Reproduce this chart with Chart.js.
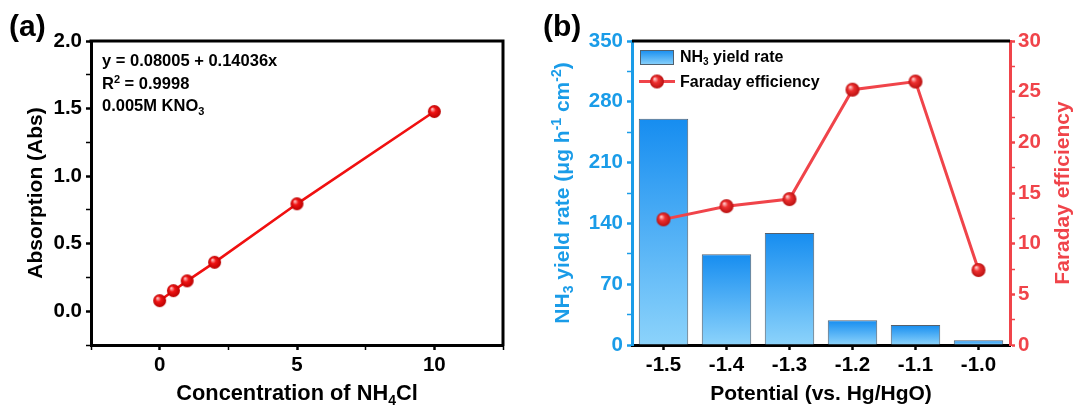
<!DOCTYPE html>
<html><head><meta charset="utf-8">
<script src="https://cdn.jsdelivr.net/npm/chart.js@4.4.0/dist/chart.umd.min.js"></script>
<style>
html,body{margin:0;padding:0;background:#fff;}
#wrap{position:relative;width:1074px;height:407px;overflow:hidden;background:#fff;}
#ca{position:absolute;left:0;top:0;}
#cb{position:absolute;left:540px;top:0;}
</style></head><body>
<div id="wrap"><canvas id="ca" width="540" height="407"></canvas><canvas id="cb" width="534" height="407"></canvas></div>
<script>
// ---------- data: panel (a) ----------
const concentrations = [0, 0.5, 1, 2, 5, 10];
const absorbances = [0.078, 0.152, 0.225, 0.362, 0.795, 1.478];
const concTicks = [-2.5, 0, 2.5, 5, 7.5, 10, 12.5];
const concTickLabels = ['', '0', '', '5', '', '10', ''];
const absTicks = [-0.25, 0, 0.25, 0.5, 0.75, 1.0, 1.25, 1.5, 1.75, 2.0];
const absTickLabels = ['', '0.0', '', '0.5', '', '1.0', '', '1.5', '', '2.0'];
// ---------- data: panel (b) ----------
const potentials = ['-1.5', '-1.4', '-1.3', '-1.2', '-1.1', '-1.0'];
const yieldRates = [260.5, 104.5, 129, 28.5, 23, 5.5];
const faradayEff = [12.4, 13.7, 14.4, 25.2, 26.0, 7.4];
const yieldTicks = [0, 35, 70, 105, 140, 175, 210, 245, 280, 315, 350];
const yieldTickLabels = ['0', '', '70', '', '140', '', '210', '', '280', '', '350'];
const feTicks = [0, 2.5, 5, 7.5, 10, 12.5, 15, 17.5, 20, 22.5, 25, 27.5, 30];
const feTickLabels = ['0', '', '5', '', '10', '', '15', '', '20', '', '25', '', '30'];

const FAMILY = '"Liberation Sans", Arial, sans-serif';
const BLUE = '#1a9ce8';
const RED = '#f0444a';
Chart.defaults.font.family = FAMILY;
Chart.defaults.font.weight = 'bold';

function sphere(r, light, base, dark) {
  const c = document.createElement('canvas');
  const s = Math.ceil(2 * r + 2);
  c.width = s; c.height = s;
  const g = c.getContext('2d');
  const cx = s / 2, cy = s / 2;
  const gr = g.createRadialGradient(cx - r * 0.35, cy - r * 0.4, r * 0.05, cx, cy, r);
  gr.addColorStop(0, light);
  gr.addColorStop(0.4, base);
  gr.addColorStop(1, dark);
  g.fillStyle = gr;
  g.beginPath(); g.arc(cx, cy, r, 0, Math.PI * 2); g.fill();
  return c;
}
const sphereA = sphere(6.5, '#ffc8c8', '#f01414', '#b80000');
const sphereB = sphere(7, '#ffd0d0', '#ee3030', '#b81010');

function fontOf(size) { return 'bold ' + size + 'px ' + FAMILY; }
function richWidth(ctx, segs, size) {
  let w = 0;
  for (const s of segs) {
    ctx.font = fontOf(s.sub || s.sup ? Math.round(size * 0.65) : size);
    w += ctx.measureText(s.t).width;
  }
  return w;
}
// y = vertical centre of capitals
function drawRich(ctx, segs, x, y, size, color, align, rot) {
  ctx.save();
  ctx.translate(x, y);
  if (rot) ctx.rotate(rot);
  const w = richWidth(ctx, segs, size);
  let cx = align === 'center' ? -w / 2 : 0;
  const base = size * 0.36;
  ctx.fillStyle = color;
  ctx.textBaseline = 'alphabetic';
  ctx.textAlign = 'left';
  for (const s of segs) {
    const small = s.sub || s.sup;
    const fs = small ? Math.round(size * 0.65) : size;
    ctx.font = fontOf(fs);
    let dy = base;
    if (s.sub) dy += size * 0.22;
    if (s.sup) dy -= size * 0.38;
    ctx.fillText(s.t, cx, dy);
    cx += ctx.measureText(s.t).width;
  }
  ctx.restore();
}

function tickSetter(list) { return function (scale) { scale.ticks = list.map(v => ({ value: v })); }; }
function labeler(values, labels) { return function (v) { const i = values.findIndex(t => Math.abs(t - v) < 1e-9); return i >= 0 ? labels[i] : ''; }; }
function isMajor(values, labels, v) { const i = values.findIndex(t => Math.abs(t - v) < 1e-9); return i >= 0 && labels[i] !== ''; }

// ---------------- Panel (a) ----------------
const plugA = {
  id: 'plugA',
  afterDraw(chart) {
    const ctx = chart.ctx, ca = chart.chartArea;
    ctx.save();
    ctx.strokeStyle = '#000'; ctx.lineWidth = 3; ctx.lineCap = 'square';
    ctx.beginPath(); ctx.moveTo(ca.left, ca.top); ctx.lineTo(ca.right, ca.top); ctx.lineTo(ca.right, ca.bottom); ctx.stroke();
    ctx.restore();
    drawRich(ctx, [{ t: '(a)' }], 9, 25, 30, '#000', 'left', 0);
    drawRich(ctx, [{ t: 'Absorption (Abs)' }], 34, (ca.top + ca.bottom) / 2, 21, '#000', 'center', -Math.PI / 2);
    drawRich(ctx, [{ t: 'Concentration of NH' }, { t: '4', sub: true }, { t: 'Cl' }], (ca.left + ca.right) / 2, 392, 21.8, '#000', 'center', 0);
    drawRich(ctx, [{ t: 'y = 0.08005 + 0.14036x' }], 102, 60, 16.5, '#000', 'left', 0);
    drawRich(ctx, [{ t: 'R' }, { t: '2', sup: true }, { t: ' = 0.9998' }], 102, 83, 16.5, '#000', 'left', 0);
    drawRich(ctx, [{ t: '0.005M KNO' }, { t: '3', sub: true }], 102, 105, 16.5, '#000', 'left', 0);
  }
};

new Chart(document.getElementById('ca'), {
  type: 'scatter',
  data: {
    datasets: [{
      data: concentrations.map((c, i) => ({ x: c, y: absorbances[i] })),
      showLine: true,
      borderColor: '#f01010',
      borderWidth: 2.6,
      pointStyle: sphereA,
      pointRadius: 6.5,
      clip: false
    }]
  },
  options: {
    responsive: false, animation: false, devicePixelRatio: 1,
    layout: { padding: { top: 41, right: 37, left: 0, bottom: 0 } },
    plugins: { legend: { display: false }, tooltip: { enabled: false } },
    scales: {
      x: {
        type: 'linear', min: -2.5, max: 12.5,
        afterBuildTicks: tickSetter(concTicks),
        afterFit(s) { s.height = 62; },
        border: { color: '#000', width: 3 },
        grid: { display: true, drawOnChartArea: false, drawTicks: true, tickLength: 5,
          tickColor: '#000', tickWidth: c => isMajor(concTicks, concTickLabels, c.tick.value) ? 2.5 : 1.5 },
        ticks: { color: '#000', font: { size: 20.5, weight: 'bold' }, padding: 3, autoSkip: false, maxRotation: 0,
          callback: labeler(concTicks, concTickLabels) },
        title: { display: false }
      },
      y: {
        type: 'linear', min: -0.25, max: 2.0,
        afterBuildTicks: tickSetter(absTicks),
        afterFit(s) { s.width = 91; },
        border: { color: '#000', width: 3 },
        grid: { display: true, drawOnChartArea: false, drawTicks: true, tickLength: 5,
          tickColor: '#000', tickWidth: c => isMajor(absTicks, absTickLabels, c.tick.value) ? 2.5 : 1.5 },
        ticks: { color: '#000', font: { size: 20.5, weight: 'bold' }, padding: 4, autoSkip: false,
          callback: labeler(absTicks, absTickLabels) },
        title: { display: false }
      }
    }
  },
  plugins: [plugA]
});

// ---------------- Panel (b) ----------------
function barGradient(ctx, top, bottom) {
  const g = ctx.createLinearGradient(0, top, 0, bottom);
  g.addColorStop(0, '#168df0');
  g.addColorStop(1, '#8cd3fb');
  return g;
}
const plugB = {
  id: 'plugB',
  afterDraw(chart) {
    const ctx = chart.ctx, ca = chart.chartArea;
    ctx.save();
    ctx.strokeStyle = '#000'; ctx.lineWidth = 3;
    ctx.beginPath(); ctx.moveTo(ca.left, ca.top); ctx.lineTo(ca.right, ca.top); ctx.stroke();
    ctx.restore();
    drawRich(ctx, [{ t: '(b)' }], 3, 25, 30, '#000', 'left', 0);
    const cy = (ca.top + ca.bottom) / 2;
    drawRich(ctx, [{ t: 'NH' }, { t: '3', sub: true }, { t: ' yield rate (\u03bcg h' }, { t: '-1', sup: true }, { t: ' cm' }, { t: '-2', sup: true }, { t: ')' }],
      21, cy, 21, BLUE, 'center', -Math.PI / 2);
    drawRich(ctx, [{ t: 'Faraday efficiency' }], 521, cy, 21, RED, 'center', -Math.PI / 2);
    drawRich(ctx, [{ t: 'Potential (vs. Hg/HgO)' }], (ca.left + ca.right) / 2, 392, 21, '#000', 'center', 0);
    // legend
    ctx.save();
    ctx.fillStyle = barGradient(ctx, 50, 65);
    ctx.fillRect(100, 50, 34, 15);
    ctx.strokeStyle = '#50606e'; ctx.lineWidth = 1;
    ctx.strokeRect(100.5, 50.5, 33, 14);
    ctx.strokeStyle = RED; ctx.lineWidth = 3;
    ctx.beginPath(); ctx.moveTo(99, 81.5); ctx.lineTo(135, 81.5); ctx.stroke();
    ctx.drawImage(sphereB, 117 - sphereB.width / 2, 81.5 - sphereB.height / 2);
    ctx.restore();
    drawRich(ctx, [{ t: 'NH' }, { t: '3', sub: true }, { t: ' yield rate' }], 140, 56, 16, '#000', 'left', 0);
    drawRich(ctx, [{ t: 'Faraday efficiency' }], 140, 81, 16, '#000', 'left', 0);
  }
};

new Chart(document.getElementById('cb'), {
  type: 'bar',
  data: {
    labels: potentials,
    datasets: [{
      type: 'line',
      data: faradayEff,
      yAxisID: 'y1',
      borderColor: RED,
      borderWidth: 3,
      pointStyle: sphereB,
      pointRadius: 7,
      order: 0,
      clip: false
    }, {
      type: 'bar',
      data: yieldRates,
      yAxisID: 'y',
      backgroundColor: (c) => {
        const ch = c.chart;
        if (!ch.chartArea || c.raw === undefined) return '#4ab0f4';
        const ys = ch.scales.y;
        return barGradient(ch.ctx, ys.getPixelForValue(c.raw), ys.getPixelForValue(0));
      },
      borderColor: '#55606c',
      borderWidth: 1,
      barPercentage: 0.785,
      categoryPercentage: 1.0,
      order: 1
    }]
  },
  options: {
    responsive: false, animation: false, devicePixelRatio: 1,
    layout: { padding: { top: 41, right: 0, left: 0, bottom: 0 } },
    plugins: { legend: { display: false }, tooltip: { enabled: false } },
    scales: {
      x: {
        type: 'category', offset: true,
        afterFit(s) { s.height = 62; },
        border: { color: '#000', width: 3 },
        grid: { display: true, offset: false, drawOnChartArea: false, drawTicks: true, tickLength: 5, tickColor: '#000', tickWidth: 2.5 },
        ticks: { color: '#000', font: { size: 20.5, weight: 'bold' }, padding: 3, maxRotation: 0 },
        title: { display: false }
      },
      y: {
        type: 'linear', position: 'left', min: 0, max: 350,
        afterBuildTicks: tickSetter(yieldTicks),
        afterFit(s) { s.width = 92; },
        border: { color: BLUE, width: 3 },
        grid: { display: true, drawOnChartArea: false, drawTicks: true, tickLength: 5,
          tickColor: BLUE, tickWidth: c => isMajor(yieldTicks, yieldTickLabels, c.tick.value) ? 2.5 : 1.5 },
        ticks: { color: BLUE, font: { size: 20.5, weight: 'bold' }, padding: 4, autoSkip: false,
          callback: labeler(yieldTicks, yieldTickLabels) },
        title: { display: false }
      },
      y1: {
        type: 'linear', position: 'right', min: 0, max: 30,
        afterBuildTicks: tickSetter(feTicks),
        afterFit(s) { s.width = 64; },
        border: { color: RED, width: 3 },
        grid: { display: true, drawOnChartArea: false, drawTicks: true, tickLength: 5,
          tickColor: RED, tickWidth: c => isMajor(feTicks, feTickLabels, c.tick.value) ? 2.5 : 1.5 },
        ticks: { color: RED, font: { size: 20.5, weight: 'bold' }, padding: 3, autoSkip: false,
          callback: labeler(feTicks, feTickLabels) },
        title: { display: false }
      }
    }
  },
  plugins: [plugB]
});
</script>
</body></html>
